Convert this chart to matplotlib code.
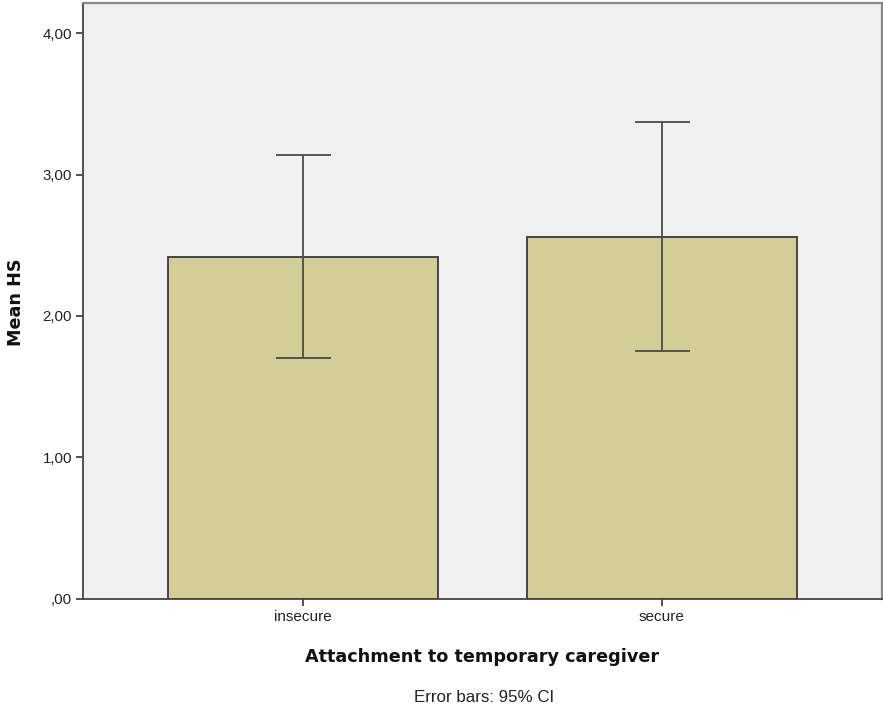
import matplotlib.pyplot as plt
import numpy as np

# data
groups = ['insecure', 'secure']
mean_hs = [2.42, 2.56]
ci_low = [1.70, 1.755]
ci_high = [3.14, 3.37]
yticks = [0, 1, 2, 3, 4]
ytick_labels = [',00', '1,00', '2,00', '3,00', '4,00']

plt.rcParams['font.family'] = ['Liberation Sans', 'DejaVu Sans']

fig = plt.figure(figsize=(8.83, 7.13), dpi=100)
ax = fig.add_axes([83/883, 1 - 598.5/713, 799/883, 595.5/713])
ax.set_facecolor('#f0f0f0')

x = np.arange(len(groups))
m = np.array(mean_hs)
err = [m - np.array(ci_low), np.array(ci_high) - m]

ax.bar(x, m, width=0.752, color='#d3ce98', edgecolor='#3a3a3a', linewidth=1.3, zorder=2)
ax.errorbar(x, m, yerr=err, fmt='none', ecolor='#4a4a4a', elinewidth=1.3,
            capsize=27.5 * 0.72, capthick=1.3, zorder=3)

ax.set_xlim(-0.613, 1.613)
ax.set_ylim(0, 4.215)
ax.set_xticks(x)
ax.set_xticklabels(groups, fontsize=11, color='#222222')
ax.set_yticks(yticks)
ax.set_yticklabels(ytick_labels, fontsize=10.8, color='#222222')
ax.tick_params(axis='both', length=5, width=1.3, color='#444444', pad=3)

for side in ['left', 'bottom']:
    ax.spines[side].set_color('#444444')
    ax.spines[side].set_linewidth(1.3)
for side in ['top', 'right']:
    ax.spines[side].set_color('#888888')
    ax.spines[side].set_linewidth(1.6)

fig.text(482/883, 1 - 657/713, 'Attachment to temporary caregiver', ha='center', va='center',
         fontsize=12.7, fontweight='bold', color='#111111', family='DejaVu Sans')
fig.text(16/883, 1 - 302/713, 'Mean HS', ha='center', va='center', rotation=90,
         fontsize=12.7, fontweight='bold', color='#111111', family='DejaVu Sans')
fig.text(484/883, 1 - 697/713, 'Error bars: 95% CI', ha='center', va='center',
         fontsize=12.2, color='#222222')

fig.savefig('out.png', dpi=100)
